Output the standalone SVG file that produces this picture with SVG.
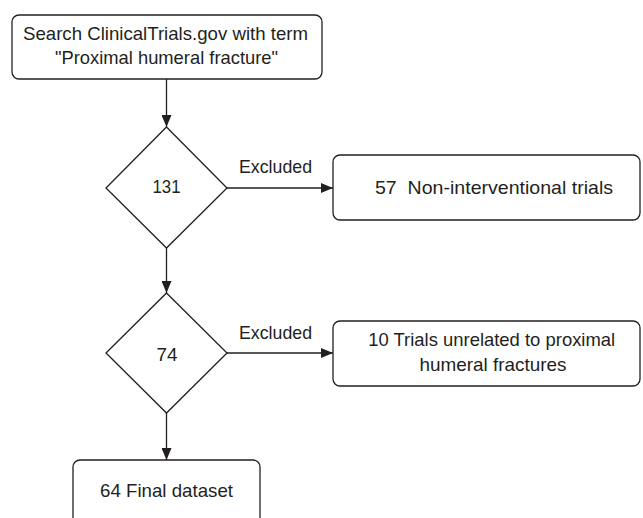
<svg xmlns="http://www.w3.org/2000/svg" width="643" height="518" viewBox="0 0 643 518">
<style>
.box{fill:#fff;stroke:#231f20;stroke-width:1.3}
.t{font-family:"Liberation Sans",Arial,sans-serif;font-size:18.5px;fill:#231f20;text-anchor:middle}
.c{stroke:#231f20;stroke-width:1.3;fill:none}
</style>
<defs>
<marker id="ah" viewBox="0 0 12 10" refX="12" refY="5" markerWidth="12" markerHeight="10" markerUnits="userSpaceOnUse" orient="auto">
<path d="M0,0 L12,5 L0,10 z" fill="#231f20"/>
</marker>
</defs>
<rect width="643" height="518" fill="#fff"/>
<g id="connectors">
<line class="c" x1="166.5" y1="79" x2="166.5" y2="127" marker-end="url(#ah)"/>
<line class="c" x1="227" y1="188" x2="333" y2="188" marker-end="url(#ah)"/>
<text class="t" x="275.5" y="173" textLength="73" lengthAdjust="spacingAndGlyphs">Excluded</text>
<line class="c" x1="166.5" y1="248" x2="166.5" y2="293" marker-end="url(#ah)"/>
<line class="c" x1="227" y1="353" x2="333" y2="353" marker-end="url(#ah)"/>
<text class="t" x="275.5" y="339" textLength="73" lengthAdjust="spacingAndGlyphs">Excluded</text>
<line class="c" x1="166.5" y1="413" x2="166.5" y2="460" marker-end="url(#ah)"/>
</g>
<g id="search">
<rect class="box" x="12" y="15" width="310" height="64" rx="7"/>
<text class="t" x="165.5" y="40" textLength="285" lengthAdjust="spacingAndGlyphs">Search ClinicalTrials.gov with term</text>
<text class="t" x="166.5" y="64" textLength="223" lengthAdjust="spacingAndGlyphs">"Proximal humeral fracture"</text>
</g>
<g id="d131">
<polygon class="box" points="166.5,127 227,188 166.5,248 106,188"/>
<text class="t" x="166.5" y="193" textLength="28" lengthAdjust="spacingAndGlyphs">131</text>
</g>
<g id="excl57">
<rect class="box" x="333" y="155" width="307" height="65" rx="7"/>
<text class="t" x="494" y="194" textLength="238" lengthAdjust="spacingAndGlyphs" xml:space="preserve">57  Non-interventional trials</text>
</g>
<g id="d74">
<polygon class="box" points="166.5,293 227,353 166.5,413 106,353"/>
<text class="t" x="167" y="361" textLength="21" lengthAdjust="spacingAndGlyphs">74</text>
</g>
<g id="excl10">
<rect class="box" x="333" y="321" width="307" height="65" rx="7"/>
<text class="t" x="491.7" y="346" textLength="247" lengthAdjust="spacingAndGlyphs">10 Trials unrelated to proximal</text>
<text class="t" x="493" y="371" textLength="147" lengthAdjust="spacingAndGlyphs">humeral fractures</text>
</g>
<g id="final">
<rect class="box" x="73" y="460" width="187" height="80" rx="7"/>
<text class="t" x="166.5" y="497" textLength="133" lengthAdjust="spacingAndGlyphs">64 Final dataset</text>
</g>
</svg>
